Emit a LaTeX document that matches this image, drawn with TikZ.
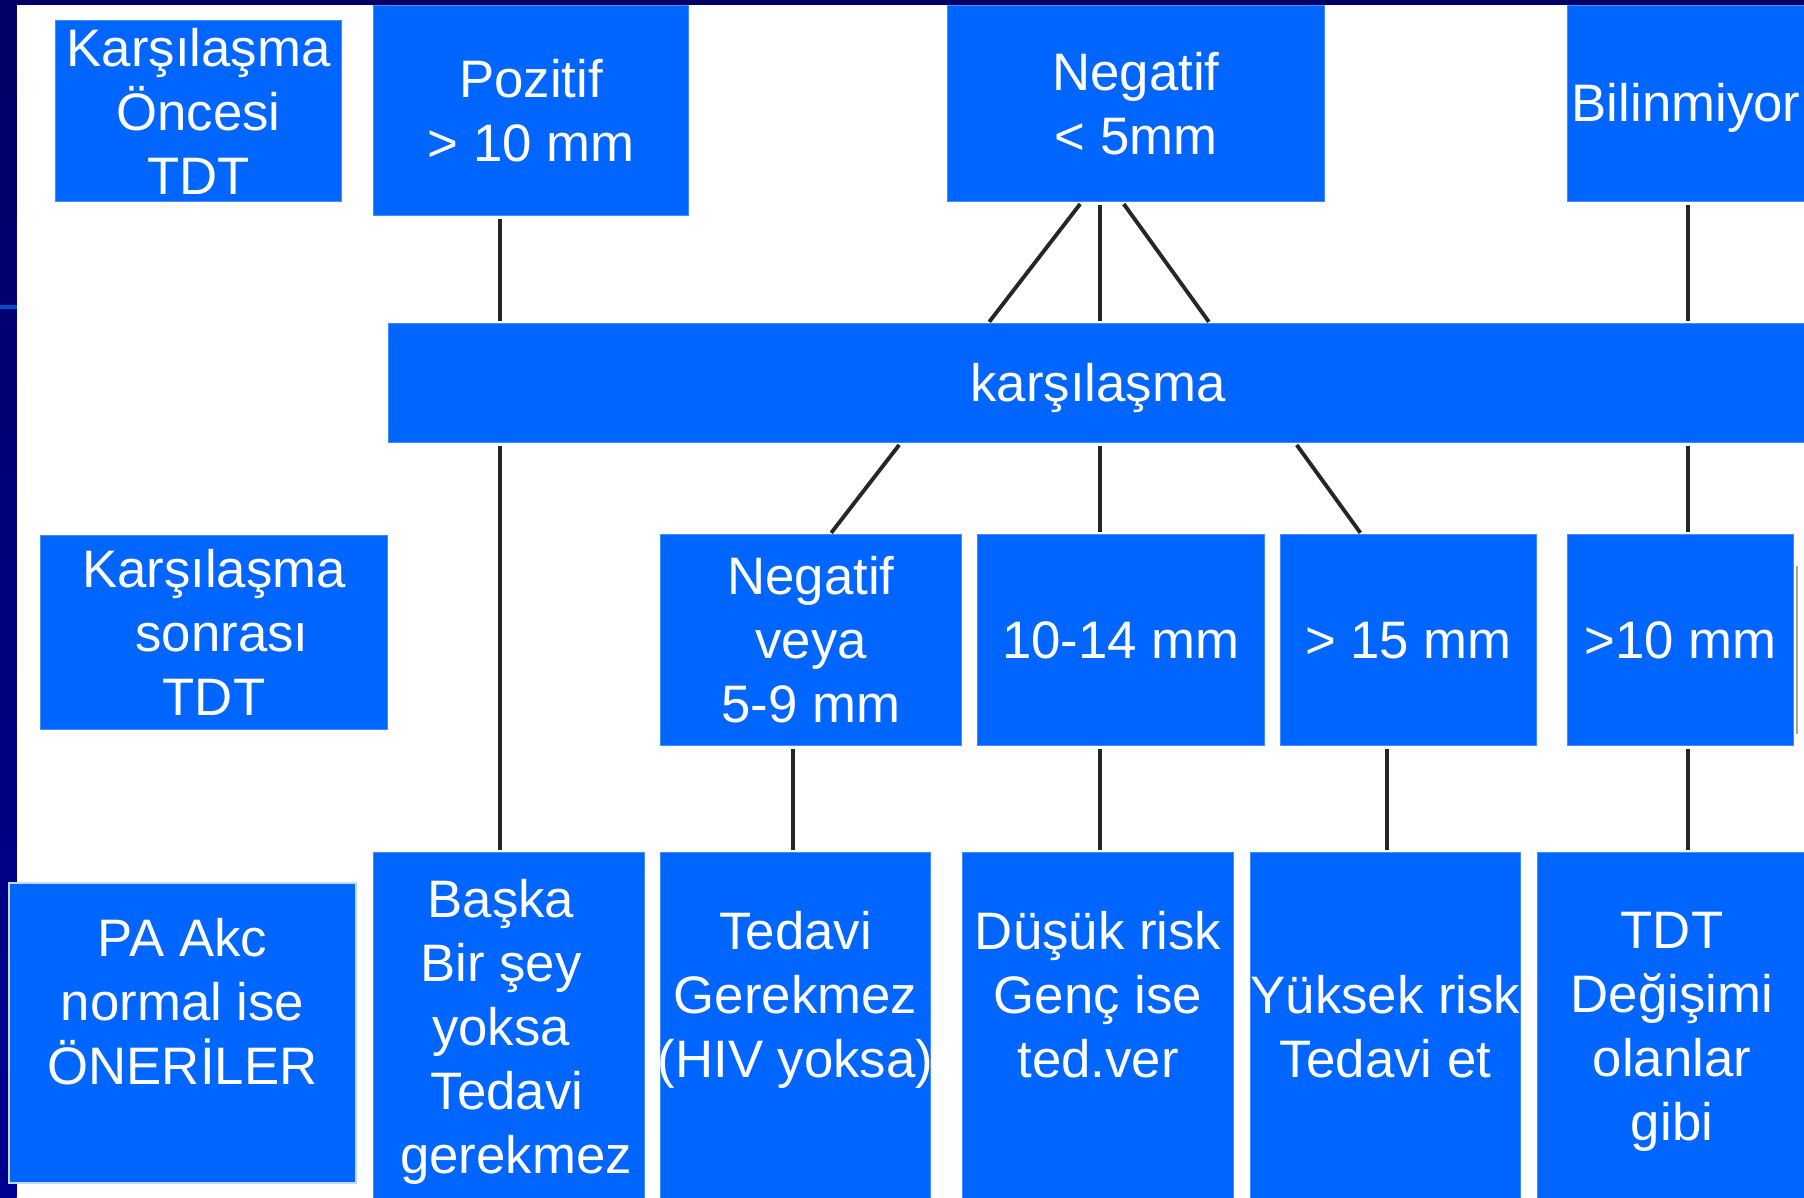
\documentclass[tikz,border=0pt]{standalone}
\usepackage{fontspec}
\setmainfont{Liberation Sans}
\usetikzlibrary{calc}

\definecolor{tdtblue}{HTML}{0066FF}
\definecolor{slidenavy}{HTML}{000066}
\definecolor{slidenavyb}{HTML}{000090}
\definecolor{tickblue}{HTML}{0050C8}

\newcommand{\lnstrut}{\rule[-0.212em]{0pt}{1.117em}}

\tikzset{
	box/.style={rectangle, fill=tdtblue, draw=tdtblue!75!white, line width=0.3pt, text=white, align=center, inner sep=0pt, font={\fontsize{15}{18.2}\selectfont}},
	oneline/.style={box, execute at begin node=\lnstrut},
	conn/.style={line width=1.1pt, draw=black!85, shorten <=0.3mm, shorten >=0.2mm},
}

\begin{document}
\begin{tikzpicture}[x=0.01cm, y=-0.01cm]
		% Slide background
		\useasboundingbox (0,0) rectangle (1804,1197);
		\fill[white] (0,0) rectangle (1804,1197);
		\shade[top color=slidenavy, bottom color=slidenavyb] (0,0) rectangle (16.5,1197);
		\fill[slidenavy] (0,0) rectangle (1804,5);
		\fill[tickblue] (0,305) rectangle (16.5,309);
		
		% Before exposure
		\node[box, minimum width=2.85cm, minimum height=1.80cm] (once) at (198.5,111) {Karşılaşma\\Öncesi\\TDT};
		\node[box, minimum width=3.14cm, minimum height=2.09cm] (poz) at (531,110.5) {Pozitif\\> 10 mm};
		\node[box, minimum width=3.76cm, minimum height=1.95cm] (neg) at (1136,103.5) {Negatif\\< 5mm};
		\node[oneline, minimum width=2.36cm, minimum height=1.95cm] (bil) at (1686,103.5) {Bilinmiyor};
		
		% Exposure bar
		\node[oneline, minimum width=14.18cm, minimum height=1.18cm] (kars) at (1098,383) {karşılaşma};
		
		% After exposure
		\node[box, minimum width=3.46cm, minimum height=1.93cm] (sonra) at (214,632.5) {Karşılaşma\\\hspace*{0.16cm}sonrası\\TDT};
		\node[box, minimum width=3.00cm, minimum height=2.10cm] (negv) at (811,640) {Negatif\\veya\\5-9 mm};
		\node[oneline, minimum width=2.86cm, minimum height=2.10cm] (orta) at (1121,640) {10-14 mm};
		\node[oneline, minimum width=2.55cm, minimum height=2.10cm] (buyuk) at (1408.5,640) {> 15 mm};
		\node[oneline, minimum width=2.25cm, minimum height=2.10cm] (bil2) at (1680.5,640) {>10 mm};
		\draw[gray!70, line width=0.6pt] ($(bil2.north east)+(3,32)$) -- ($(bil2.south east)+(3,-12)$);
		
		% Recommendations
		\node[box, draw=white!75!tdtblue, line width=0.6pt, minimum width=3.47cm, minimum height=3.00cm] (pa) at (182.5,1033) {PA Akc\\normal ise\\ÖNERİLER\\\mbox{}};
		\node[box, minimum width=2.70cm, minimum height=3.57cm] (baska) at (509,1031.5) {\hspace*{-0.16cm}Başka\\\hspace*{-0.16cm}Bir şey\\\hspace*{-0.16cm}yoksa\\\hspace*{-0.04cm}Tedavi\\\hspace*{0.14cm}gerekmez};
		\node[box, inner xsep=-0.04cm, minimum width=2.69cm, minimum height=3.47cm] (hiv) at (795.5,1026.5) {Tedavi\\Gerekmez\\(HIV yoksa)\\\mbox{}};
		\node[box, minimum width=2.70cm, minimum height=3.47cm] (dusuk) at (1098,1026.5) {Düşük risk\\Genç ise\\ted.ver\\\mbox{}};
		\node[box, inner xsep=-0.01cm, minimum width=2.69cm, minimum height=3.47cm] (yuksek) at (1385.5,1026.5) {Yüksek risk\\Tedavi et};
		\node[box, minimum width=2.68cm, minimum height=3.57cm] (degis) at (1672,1031.5) {TDT\\Değişimi\\olanlar\\gibi};
		
		% Line columns
		\coordinate (xa) at (500,0);
		\coordinate (xb) at (793,0);
		\coordinate (xc) at (1100,0);
		\coordinate (xd) at (1387,0);
		\coordinate (xe) at (1688,0);
		
		% Into the bar
		\draw[conn] (poz.south -| xa) -- (kars.north -| xa);
		\draw[conn] ($(neg.south -| xc)+(-18,0)$) -- ($(kars.north -| xc)+(-112,0)$);
		\draw[conn] (neg.south -| xc) -- (kars.north -| xc);
		\draw[conn] ($(neg.south -| xc)+(22,0)$) -- ($(kars.north -| xc)+(110,0)$);
		\draw[conn] (bil.south -| xe) -- (kars.north -| xe);
		
		% Out of the bar
		\draw[conn] (kars.south -| xa) -- (baska.north -| xa);
		\draw[conn] ($(kars.south -| xc)+(-199,0)$) -- ($(negv.north)+(19,0)$);
		\draw[conn] (kars.south -| xc) -- (orta.north -| xc);
		\draw[conn] ($(kars.south -| xc)+(195,0)$) -- ($(buyuk.north)+(-47,0)$);
		\draw[conn] (kars.south -| xe) -- (bil2.north -| xe);
		
		% Down to recommendations
		\foreach \a/\b/\c in {negv/hiv/xb, orta/dusuk/xc, buyuk/yuksek/xd, bil2/degis/xe} {
			\draw[conn] (\a.south -| \c) -- (\b.north -| \c);
		}
	\end{tikzpicture}
\end{document}
